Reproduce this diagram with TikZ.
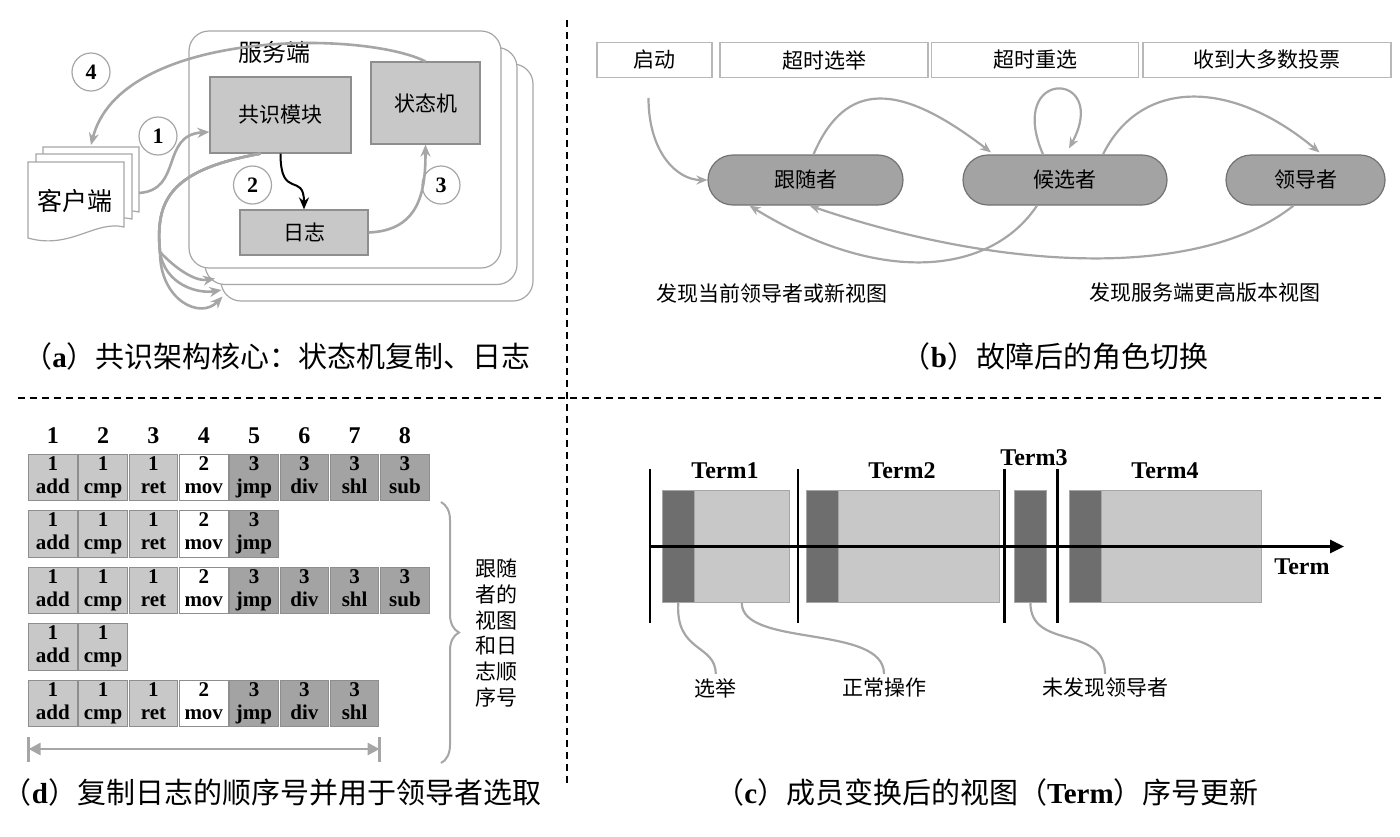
\documentclass[tikz,border=0pt]{standalone}
\usepackage{fontspec}
\setmainfont{Noto Sans CJK SC}
\newfontfamily\tms{Liberation Serif}
\usetikzlibrary{arrows.meta,decorations.pathreplacing}
\definecolor{cellg}{HTML}{C8C8C8}
\definecolor{nodeg}{HTML}{A3A3A3}
\definecolor{darkg}{HTML}{6E6E6E}
\definecolor{lineg}{HTML}{A6A6A6}
\definecolor{edgeg}{HTML}{8E8E8E}

\begin{document}
\begin{tikzpicture}[x=0.5pt,y=-0.5pt,
  gline/.style={draw=lineg,line width=1.3pt},
  garrow/.style={gline,-{Stealth[length=6pt,width=5pt]}},
  srvbox/.style={draw=lineg,fill=white,rounded corners=10pt,line width=0.6pt,
    minimum width=156pt,minimum height=118.5pt},
  modbox/.style={draw=edgeg,fill=cellg,inner sep=0pt,line width=0.6pt,
    font=\fontsize{10.5}{12}\selectfont},
  numcirc/.style={circle,draw=lineg,fill=white,minimum size=19pt,inner sep=0pt,
    line width=0.6pt,font=\tms\bfseries\fontsize{11}{12}\selectfont},
  docpage/.style={draw=lineg,fill=white,line width=0.6pt},
  topbox/.style={draw=black!28,line width=0.6pt,minimum height=17.3pt,inner sep=0pt,
    font=\fontsize{10.5}{12}\selectfont},
  rolebox/.style={draw=edgeg!80!black,fill=nodeg,rounded corners=12.5pt,line width=0.6pt,
    minimum height=25pt,inner sep=0pt,font=\fontsize{10.5}{12}\selectfont},
  bline/.style={draw=lineg,line width=1.1pt},
  barrow/.style={bline,-{Stealth[length=5.5pt,width=4.5pt]}},
  cellbox/.style={draw=edgeg,line width=0.5pt,minimum width=24.25pt,minimum height=23.25pt,
    inner sep=0pt,align=center,font=\tms\bfseries\fontsize{10.5}{11.5}\selectfont},
  hdrnum/.style={font=\tms\bfseries\fontsize{12}{14}\selectfont},
  termbox/.style={draw=black!35,line width=0.5pt,minimum height=55.8pt,inner sep=0pt},
  tline/.style={black,line width=1.3pt},
  termlbl/.style={font=\tms\bfseries\fontsize{12}{14}\selectfont},
  note/.style={font=\fontsize{10.5}{12}\selectfont,inner sep=2pt},
  capt/.style={font=\fontsize{14.5}{17}\selectfont},
  divline/.style={black,line width=1pt,dash pattern=on 3.5pt off 2.5pt}]
\useasboundingbox (0,0) rectangle (1400,836);

% (a)
\node[srvbox] (srv3) at (377,182.5) {};
\node[srvbox] (srv2) at (361,166) {};
\node[srvbox] (srv1) at (345,149.5) {};
\node[font=\fontsize{12}{14}\selectfont] (srvlbl) at (274,52) {服务端};
\node[modbox,minimum width=70.5pt,minimum height=38pt] (cons) at (280.5,115) {共识模块};
\node[modbox,minimum width=54.5pt,minimum height=41pt] (sm) at (425.5,103) {状态机};
\node[modbox,minimum width=64pt,minimum height=22.5pt] (log) at (304,232.5) {日志};
\foreach \d in {15,8,0}
  \draw[docpage] (28+\d,162-\d) -- ++(96,0) -- ++(0,65)
    .. controls +(-29,-7) and +(42,12) .. ++(-96,11) -- cycle;
\node[font=\fontsize{12.5}{14}\selectfont] (cli) at (75,201) {客户端};
\coordinate (clitop) at (91,145);
\coordinate (cliright) at (139,193);
\node[numcirc] (n4) at (91,72) {4};
\node[numcirc] (n1) at (158,136) {1};
\node[numcirc] (n2) at (252.5,185) {2};
\node[numcirc] (n3) at (441,185) {3};
\draw[garrow] (sm.north) .. controls +(-65,-32) and +(29,-115) .. (clitop);
\draw[garrow] (cliright) .. controls +(44,-3) and +(-49,3) .. ([yshift=-8.5pt]cons.west);
\draw[black,line width=1pt,-{Stealth[length=6pt,width=5pt]}] (cons.south)
  .. controls +(0,47) and +(0,-38) .. (log.north);
\draw[garrow] (log.east) .. controls +(52,-2) and +(0,45) .. (sm.south);
\coordinate (hub) at (160,252);
\coordinate (r1) at (215,278.5);
\coordinate (r2) at (221.5,290);
\coordinate (r3) at (222.5,296.5);
\draw[garrow] ([xshift=-10pt]cons.south) .. controls (170,170) and (155,200) .. (hub)
  .. controls (175,268) and (195,282) .. (r1);
\draw[garrow] ([xshift=-10pt]cons.south) .. controls (170,170) and (155,200) .. (hub)
  .. controls (165,285) and (198,294) .. (r2);
\draw[garrow] ([xshift=-10pt]cons.south) .. controls (170,170) and (155,200) .. (hub)
  .. controls (160,300) and (200,320) .. (r3);
\node[capt] (capa) at (277,356) {（{\tms\bfseries a}）共识架构核心：状态机复制、日志};

% (b)
\node[topbox,minimum width=57.5pt] (qd) at (654.5,60) {启动};
\node[topbox,minimum width=104pt] (csxj) at (824,60) {超时选举};
\node[topbox,minimum width=103.5pt] (cscx) at (1035,60) {超时重选};
\node[topbox,minimum width=124pt] (sddp) at (1267,60) {收到大多数投票};
\node[rolebox,minimum width=97.5pt] (fol) at (805.5,180) {跟随者};
\node[rolebox,minimum width=102pt] (cand) at (1065,180) {候选者};
\node[rolebox,minimum width=79.5pt] (lead) at (1305.5,180) {领导者};
\draw[barrow] ([xshift=-3pt,yshift=-10pt]qd.south) .. controls +(0,55) and +(-30,0) .. (fol.west);
\draw[barrow] ([xshift=4pt]fol.north) .. controls +(32,-75) and +(-91,-70) .. ([xshift=-37pt,yshift=1pt]cand.north);
\draw[barrow] ([xshift=-11pt]cand.north) .. controls +(-38,-88) and +(42,-78) .. ([xshift=2pt,yshift=3pt]cand.north);
\draw[barrow] ([xshift=19pt]cand.north) .. controls +(37,-75) and +(-90,-75) .. ([xshift=7pt,yshift=1pt]lead.north);
\draw[barrow] ([xshift=-14pt]cand.south) .. controls +(-47,70) and +(130,80) .. ([xshift=-28pt]fol.south);
\draw[barrow] ([xshift=-6pt]lead.south) .. controls +(-94,75) and +(190,65) .. ([xshift=2pt]fol.south);
\node[note] (fxl) at (772,293) {发现当前领导者或新视图};
\node[note] (fxs) at (1205,293) {发现服务端更高版本视图};
\node[capt] (capb) at (1055,356) {（{\tms\bfseries b}）故障后的角色切换};

% dividers
\draw[divline] (566.7,20) -- (566.7,785);
\draw[divline] (18,397.5) -- (1385,397.5);

% (d)
\foreach \cc in {1,...,8}
  \node[hdrnum] (h\cc) at ({52.85+50.3*(\cc-1)},436) {\cc};
\foreach \r/\n in {1/8,2/5,3/8,4/2,5/7} {
  \foreach \t/\op/\f [count=\cc] in {1/add/cellg,1/cmp/cellg,1/ret/cellg,2/mov/white,
      3/jmp/nodeg,3/div/nodeg,3/shl/nodeg,3/sub/nodeg} {
    \ifnum\cc>\n\relax\else
      \node[cellbox,fill=\f] (c\r-\cc) at ({52.85+50.3*(\cc-1)},{477.3+56.5*(\r-1)})
        {\strut\t\\\strut\op};
    \fi
  }
}
\draw[lineg,line width=1pt,decorate,decoration={brace,amplitude=9pt}] (441,502) -- (441,763);
\node[align=center,font=\fontsize{10.5}{12.85}\selectfont] (vtxt) at (496,633)
  {跟随\\者的\\视图\\和日\\志顺\\序号};
\coordinate (la) at (28.6,749);
\coordinate (lb) at (379.6,749);
\draw[lineg,line width=1.4pt,{Triangle[length=6pt,width=6pt]}-{Triangle[length=6pt,width=6pt]}] (la) -- (lb);
\draw[lineg,line width=1.4pt] ([yshift=6pt]la) -- ([yshift=-6.5pt]la);
\draw[lineg,line width=1.4pt] ([yshift=6pt]lb) -- ([yshift=-6.5pt]lb);
\node[capt] (capd) at (272,792) {（{\tms\bfseries d}）复制日志的顺序号并用于领导者选取};

% (c)
\node[termbox,fill=darkg,minimum width=16.25pt] (e1) at (678.25,546.5) {};
\node[termbox,fill=cellg,minimum width=47.25pt] (o1) at (741.75,546.5) {};
\node[termbox,fill=darkg,minimum width=16.15pt] (e2) at (822.65,546.5) {};
\node[termbox,fill=cellg,minimum width=80.35pt] (o2) at (919.15,546.5) {};
\node[termbox,fill=darkg,minimum width=16.4pt] (e3) at (1030.4,546.5) {};
\node[termbox,fill=darkg,minimum width=16.25pt] (e4) at (1085.25,546.5) {};
\node[termbox,fill=cellg,minimum width=80.1pt] (o4) at (1181.6,546.5) {};
\draw[tline] (650,469) -- (650,623);
\draw[tline] (798,469) -- (798,623);
\draw[tline] (1004.5,469) -- (1004.5,623);
\draw[tline] (1057.7,469) -- (1057.7,623);
\coordinate (ax0) at (649,546.5);
\coordinate (ax1) at (1344,546.5);
\draw[black,line width=1.4pt,-{Triangle[length=7pt,width=6.5pt]}] (ax0) -- (ax1);
\node[termlbl] (tm1) at (725,471) {Term1};
\node[termlbl] (tm2) at (902,471) {Term2};
\node[termlbl] (tm3) at (1034,458) {Term3};
\node[termlbl] (tm4) at (1165,471) {Term4};
\node[termlbl] (tmax) at (1302,567) {Term};
\node[note] (l1) at (715.7,688) {选举};
\node[note] (l2) at (884,688) {正常操作};
\node[note] (l3) at (1105,688) {未发现领导者};
\draw[bline] (e1.south) .. controls +(-3,50) and +(0,-30) .. (l1.north);
\draw[bline] (o1.south) .. controls +(0,45) and +(0,-50) .. (l2.north);
\draw[bline] (e3.south) .. controls +(0,48) and +(0,-50) .. (l3.north);
\node[capt] (capc) at (987,792) {（{\tms\bfseries c}）成员变换后的视图（{\tms\bfseries Term}）序号更新};
\end{tikzpicture}
\end{document}
